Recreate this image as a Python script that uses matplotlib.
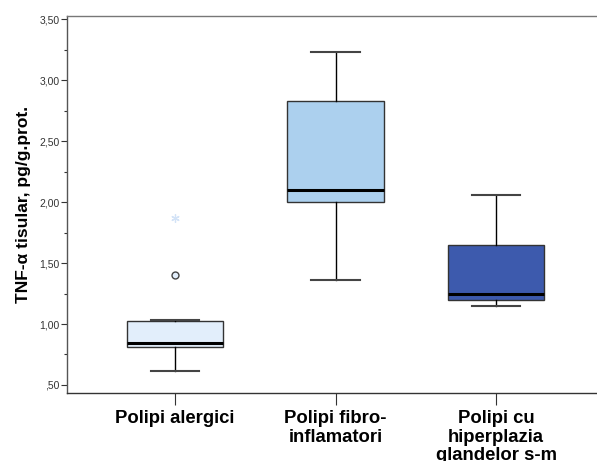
import matplotlib
matplotlib.use("Agg")
import matplotlib.pyplot as plt
from matplotlib.ticker import FuncFormatter, MultipleLocator

plt.rcParams['font.family'] = ['Liberation Sans', 'DejaVu Sans']

categories = ["Polipi alergici", "Polipi fibro-\ninflamatori", "Polipi cu\nhiperplazia\nglandelor s-m"]
q1 = [0.811, 2.002, 1.194]
med = [0.848, 2.103, 1.243]
q3 = [1.021, 2.829, 1.649]
whislo = [0.613, 1.358, 1.144]
whishi = [1.032, 3.235, 2.056]
outliers_circle = [[1.402], [], []]
outliers_star = [[1.873], [], []]
colors = ["#e2eefb", "#acd0ee", "#3d5aad"]

fig = plt.figure(figsize=(5.97, 4.61), dpi=100)
ax = fig.add_axes([67/597, 1-393/461, 1-67/597, (393-15.5)/461])

stats = []
for i, c in enumerate(categories):
    stats.append(dict(label=c, q1=q1[i], med=med[i], q3=q3[i],
                      whislo=whislo[i], whishi=whishi[i], fliers=[]))

positions = [1, 2, 3]
bp = ax.bxp(stats, positions=positions, widths=0.6, patch_artist=True,
            showfliers=False,
            boxprops=dict(edgecolor="#333333", linewidth=1.0),
            medianprops=dict(color="black", linewidth=2.2),
            whiskerprops=dict(color="black", linewidth=1.0),
            capprops=dict(color="#444444", linewidth=1.5),
            capwidths=0.3)
for patch, col in zip(bp['boxes'], colors):
    patch.set_facecolor(col)

for i, pos in enumerate(positions):
    for v in outliers_circle[i]:
        ax.plot(pos, v, marker='o', markersize=5, markerfacecolor=colors[i],
                markeredgecolor="#444444", markeredgewidth=1.0, linestyle='none')
    for v in outliers_star[i]:
        ax.plot(pos, v, marker=(6, 2, 0), markersize=6, markeredgecolor="#d3e3f7",
                markeredgewidth=0.9, linestyle='none')

ax.set_xlim(0.327, 3.629)
ax.set_ylim(0.434, 3.531)
ax.yaxis.set_major_locator(MultipleLocator(0.5))
ax.yaxis.set_minor_locator(MultipleLocator(0.25))

def fmt(v, p):
    s = "%.2f" % v
    s = s.replace(".", ",")
    if s.startswith("0,"):
        s = s[1:]
    return s
ax.yaxis.set_major_formatter(FuncFormatter(fmt))

ax.set_xticks(positions)
ax.set_xticklabels(categories, fontsize=13.3, fontweight='bold', linespacing=1.12)
ax.tick_params(axis='x', length=8.5, width=0.8, color="#333333", pad=4)
ax.tick_params(axis='y', which='major', length=4.5, width=0.8, color="#333333",
               labelsize=7.5, labelcolor="#333333", pad=1)
ax.tick_params(axis='y', which='minor', length=2.5, width=0.8, color="#333333")

ax.set_ylabel("TNF-α tisular, pg/g.prot.", fontsize=12.5, fontweight='bold', labelpad=6)

ax.spines['right'].set_visible(False)
ax.spines['top'].set_color("#777777")
ax.spines['left'].set_color("#555555")
ax.spines['bottom'].set_color("#333333")
for s in ax.spines.values():
    s.set_linewidth(1.0)

fig.savefig("out.png", dpi=100)
